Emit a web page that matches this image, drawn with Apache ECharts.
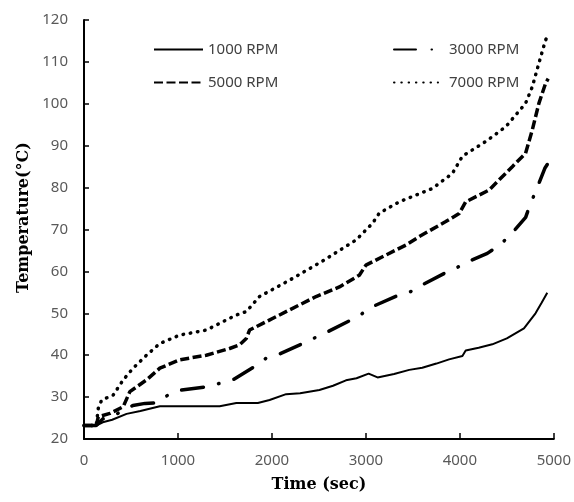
<!DOCTYPE html>
<html>
<head>
<meta charset="utf-8">
<script src="https://cdn.jsdelivr.net/npm/echarts@6/dist/echarts.min.js"></script>
<style>html,body{margin:0;padding:0;background:#fff}#c{width:574px;height:502px}</style>
</head>
<body>
<div id="c"></div>
<script>
const seriesNames = ['1000 RPM', '3000 RPM', '5000 RPM', '7000 RPM'];
const xTicks = [0, 1000, 2000, 3000, 4000, 5000];
const yTicks = [20, 30, 40, 50, 60, 70, 80, 90, 100, 110, 120];

const rpm1000 = [[0,23.2],[130,23.2],[200,24],[300,24.6],[453,26],[600,26.7],[807,27.8],[1444,27.8],[1621,28.6],[1850,28.6],[1975,29.3],[2151,30.7],[2300,30.9],[2505,31.7],[2650,32.7],[2788,34],[2900,34.5],[3029,35.6],[3124,34.7],[3300,35.5],[3461,36.5],[3600,37],[3750,38],[3885,39],[4027,39.8],[4062,41.1],[4200,41.8],[4345,42.6],[4500,44],[4682,46.4],[4805,50],[4870,52.5],[4930,54.9]];
const rpm3000 = [[0,23.2],[130,23.2],[200,24.8],[350,26],[520,28],[650,28.5],[775,28.6],[895,30.5],[1037,31.7],[1320,32.5],[1444,33.3],[1600,34.3],[1815,37.3],[1939,39.3],[2081,40.3],[2328,42.8],[2470,44.3],[2593,45.6],[2859,48.6],[2965,50],[3071,51.6],[3355,54.4],[3479,55.2],[3602,56.8],[3832,59.5],[3956,60.7],[4045,61.9],[4292,64.3],[4406,66],[4522,68.3],[4700,72.9],[4745,75.8],[4805,79],[4904,84.6],[4930,85.5]];
const rpm5000 = [[0,23.2],[130,23.2],[152,25.3],[276,26.1],[417,27.7],[488,31.3],[665,34.1],[807,36.9],[1019,38.9],[1302,40],[1550,41.6],[1656,42.5],[1727,44],[1762,46],[1903,47.6],[2187,50.8],[2470,54],[2718,56.3],[2930,59.1],[3000,61.5],[3213,63.9],[3426,66.3],[3567,68.3],[3850,71.9],[3992,73.8],[4062,76.6],[4310,79.4],[4451,82.6],[4558,85],[4699,88.2],[4770,93.7],[4841,100.1],[4912,104.9],[4940,106]];
const rpm7000 = [[0,23.2],[130,23.2],[152,27.3],[188,29.3],[311,30.5],[417,34.1],[523,36.9],[665,40],[807,42.8],[1019,44.8],[1302,46],[1444,47.6],[1621,49.6],[1727,50.4],[1868,54],[2187,57.9],[2541,62.5],[2895,67.5],[3071,71.5],[3142,73.9],[3355,76.6],[3708,79.8],[3921,83.4],[4027,87.5],[4275,91],[4487,94.5],[4699,100.1],[4770,104],[4841,109.7],[4912,115.2],[4930,116]];

const chart = echarts.init(document.getElementById('c'), null, {renderer: 'canvas'});
const legendText = {fontFamily: 'Noto Sans', fontSize: 15, color: '#404040'};
const legendBase = {orient: 'vertical', top: 42, padding: 0, itemHeight: 14, itemGap: 18,
  itemStyle: {opacity: 0, borderWidth: 0}};
chart.setOption({
  animation: false,
  backgroundColor: '#fff',
  grid: {left: 84, right: 19, top: 20, bottom: 63, containLabel: false},
  legend: [
    Object.assign({data: [seriesNames[0], seriesNames[2]], left: 153, itemWidth: 49, textStyle: legendText}, legendBase),
    Object.assign({data: [seriesNames[1], seriesNames[3]], left: 393, itemWidth: 44,
      textStyle: Object.assign({padding: [0,0,0,6]}, legendText)}, legendBase)
  ],
  xAxis: {
    type: 'value', min: xTicks[0], max: xTicks[xTicks.length-1], interval: 1000,
    name: 'Time (sec)', nameLocation: 'middle', nameGap: 38,
    nameTextStyle: {fontFamily: 'DejaVu Serif', fontWeight: 'bold', fontSize: 16, color: '#000'},
    axisLine: {lineStyle: {color: '#000', width: 2}},
    axisTick: {inside: true, length: 6, lineStyle: {color: '#000', width: 1.5}},
    axisLabel: {margin: 14, fontFamily: 'Noto Sans', fontSize: 15, color: '#595959',
      formatter: function (v) { return String(v); }},
    splitLine: {show: false}
  },
  yAxis: {
    type: 'value', min: yTicks[0], max: yTicks[yTicks.length-1], interval: 10,
    name: 'Temperature(°C)', nameLocation: 'middle', nameGap: 50, nameRotate: 90,
    nameTextStyle: {fontFamily: 'DejaVu Serif', fontWeight: 'bold', fontSize: 16, color: '#000',
      padding: [0, 0, 0, 24]},
    axisLine: {show: true, lineStyle: {color: '#000', width: 2}},
    axisTick: {show: true, inside: true, length: 5, lineStyle: {color: '#000', width: 1.5}},
    axisLabel: {margin: 16, fontFamily: 'Noto Sans', fontSize: 15, color: '#595959',
      formatter: function (v) { return String(v); }},
    splitLine: {show: false}
  },
  series: [
    {name: seriesNames[0], type: 'line', data: rpm1000, symbol: 'none', showSymbol: false,
     lineStyle: {color: '#000', width: 2, type: 'solid'}, itemStyle: {color: '#000'}},
    {name: seriesNames[1], type: 'line', data: rpm3000, symbol: 'none', showSymbol: false,
     lineStyle: {color: '#000', width: 3.5, type: [22, 15.5, 0.5, 15.5], cap: 'round'}, itemStyle: {color: '#000'}},
    {name: seriesNames[2], type: 'line', data: rpm5000, symbol: 'none', showSymbol: false,
     lineStyle: {color: '#000', width: 3.5, type: [9, 3.5]}, itemStyle: {color: '#000'}},
    {name: seriesNames[3], type: 'line', data: rpm7000, symbol: 'none', showSymbol: false,
     lineStyle: {color: '#000', width: 3.5, type: [0.5, 6.8], cap: 'round'}, itemStyle: {color: '#000'}}
  ]
});
</script>
</body>
</html>
